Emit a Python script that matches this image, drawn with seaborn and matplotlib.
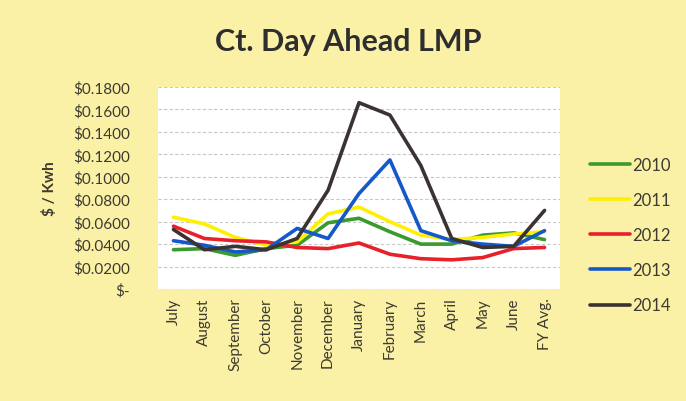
import numpy as np
import pandas as pd
import matplotlib
matplotlib.use("Agg")
import matplotlib.pyplot as plt
from matplotlib.ticker import FuncFormatter, MultipleLocator
import seaborn as sns

months = ["July", "August", "September", "October", "November", "December",
          "January", "February", "March", "April", "May", "June", "FY Avg."]

lmp_2010 = [0.035, 0.036, 0.030, 0.036, 0.039, 0.059, 0.063, 0.051, 0.040, 0.040, 0.048, 0.050, 0.044]
lmp_2011 = [0.064, 0.058, 0.046, 0.039, 0.042, 0.067, 0.073, 0.060, 0.048, 0.044, 0.046, 0.049, 0.051]
lmp_2012 = [0.056, 0.045, 0.043, 0.042, 0.037, 0.036, 0.041, 0.031, 0.027, 0.026, 0.028, 0.036, 0.037]
lmp_2013 = [0.043, 0.039, 0.033, 0.035, 0.054, 0.045, 0.085, 0.115, 0.052, 0.043, 0.040, 0.038, 0.052]
lmp_2014 = [0.053, 0.035, 0.038, 0.035, 0.045, 0.088, 0.166, 0.155, 0.110, 0.045, 0.037, 0.038, 0.070]

years = ["2010", "2011", "2012", "2013", "2014"]
colors = ["#3a9a2c", "#fff000", "#e8202a", "#1558c8", "#3b3332"]

series = dict(zip(years, [lmp_2010, lmp_2011, lmp_2012, lmp_2013, lmp_2014]))
df = pd.DataFrame([
    {"month": m, "pos": i, "year": y, "value": v}
    for y, vals in series.items()
    for i, (m, v) in enumerate(zip(months, vals))
])

sns.set_theme(style="white")
plt.rcParams["font.family"] = ["Lato", "DejaVu Sans"]

bg = "#faf0a6"
text_col = "#3d3a30"

fig = plt.figure(figsize=(6.86, 4.02), dpi=100, facecolor=bg)
ax = fig.add_axes([158 / 686, 1 - 290 / 402, (560 - 158) / 686, (290 - 88) / 402])
ax.set_facecolor("white")

sns.lineplot(data=df, x="pos", y="value", hue="year", palette=colors,
             linewidth=2.6, ax=ax, legend=True)

ax.set_xlim(-0.5, 12.5)
ax.set_ylim(0, 0.18)
ax.yaxis.set_major_locator(MultipleLocator(0.02))
ax.yaxis.set_major_formatter(FuncFormatter(lambda v, _: "$-" if abs(v) < 1e-9 else f"${v:.4f}"))
ax.set_xticks(range(len(months)))
ax.set_xticklabels(months, rotation=90, fontsize=11, color=text_col)
ax.tick_params(axis="y", labelsize=11, labelcolor=text_col, pad=20, length=0)
ax.tick_params(axis="x", pad=6, length=0)
ax.grid(axis="y", color="#c8c8c8", linestyle=(0, (3, 2)), linewidth=0.8)
for s in ax.spines.values():
    s.set_visible(False)

ax.set_xlabel("")
ax.set_ylabel("$ / Kwh", fontsize=11, fontweight="bold", color=text_col, labelpad=12)

fig.text(0.507, 1 - 42 / 402, "Ct. Day Ahead LMP", ha="center", va="center",
         fontsize=22, fontweight="bold", color="#2e2e2e")

handles, labels = ax.get_legend_handles_labels()
ax.legend(handles, labels, loc="center left", bbox_to_anchor=(590 / 686, 1 - 236 / 402),
          bbox_transform=fig.transFigure, frameon=False, fontsize=12,
          handlelength=2.4, handletextpad=0.15, labelspacing=1.15,
          borderpad=0, borderaxespad=0, labelcolor=text_col)

fig.savefig("out.png", dpi=100, facecolor=bg)
